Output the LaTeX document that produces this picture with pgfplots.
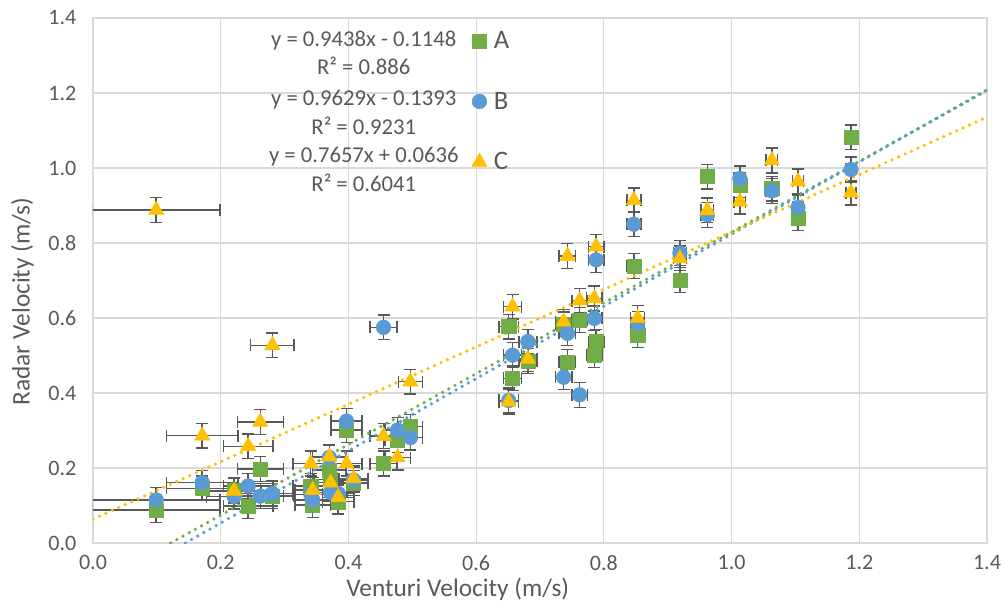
\documentclass[border=0pt]{standalone}
\usepackage{fontspec}
\setmainfont{Carlito}
\usepackage{pgfplots}
\usepackage{pgfplotstable}
\pgfplotsset{compat=1.18}

\definecolor{cA}{HTML}{70AD47}
\definecolor{cB}{HTML}{5B9BD5}
\definecolor{cC}{HTML}{FFC000}
\definecolor{txt}{HTML}{595959}
\definecolor{grd}{HTML}{D9D9D9}

% venturi velocity, radar velocity for A, B, C, and x error
\pgfplotstableread{
x      A      B      C      ex
0.099  0.088  0.115  0.888  0.100
0.171  0.146  0.161  0.286  0.056
0.221  0.140  0.124  0.139  0.043
0.243  0.099  0.152  0.258  0.039
0.262  0.197  0.125  0.323  0.036
0.281  0.125  0.132  0.527  0.034
0.341  0.152  0.130  0.212  0.028
0.344  0.101  0.115  0.141  0.028
0.370  0.195  0.228  0.230  0.026
0.372  0.170  0.135  0.161  0.026
0.384  0.110  0.132  0.122  0.025
0.397  0.301  0.325  0.212  0.024
0.408  0.160  0.168  0.172  0.023
0.455  0.212  0.575  0.285  0.021
0.477  0.275  0.301  0.228  0.020
0.497  0.310  0.281  0.430  0.019
0.651  0.577  0.380  0.377  0.015
0.657  0.439  0.501  0.630  0.014
0.681  0.485  0.537  0.491  0.014
0.737  0.583  0.442  0.590  0.013
0.743  0.483  0.559  0.765  0.013
0.762  0.595  0.395  0.646  0.012
0.785  0.501  0.599  0.652  0.012
0.788  0.537  0.755  0.790  0.012
0.847  0.739  0.850  0.914  0.011
0.853  0.555  0.585  0.600  0.011
0.919  0.701  0.773  0.759  0.010
0.962  0.977  0.875  0.887  0.010
1.013  0.955  0.972  0.910  0.009
1.063  0.945  0.939  1.020  0.009
1.104  0.866  0.895  0.964  0.009
1.187  1.082  0.996  0.934  0.008
}\data

\pgfplotsset{
  errs/.style={
    error bars/.cd,
      x dir=both, x explicit,
      y dir=both, y fixed=0.033,
      error bar style={txt, line width=1.1pt},
      error mark options={txt, line width=1.1pt, mark size=4.5pt, rotate=90},
  },
  trend/.style={line width=2.7pt, dash pattern=on 0pt off 5.3pt, line cap=round, forget plot},
}

\begin{document}
\begin{tikzpicture}
\begin{axis}[
  at={(0,0)}, anchor=south west,
  scale only axis, width=670.5pt, height=393.75pt,
  xmin=0, xmax=1.4, ymin=0, ymax=1.4,
  xtick={0,0.2,0.4,0.6,0.8,1.0,1.2,1.4},
  ytick={0,0.2,0.4,0.6,0.8,1.0,1.2,1.4},
  /pgf/number format/.cd, fixed, fixed zerofill, precision=1, assume math mode=true,
  /pgfplots/.cd,
  major tick length=0pt,
  grid=major,
  grid style={grd, line width=0.9pt},
  axis line style={grd, line width=0.9pt},
  tick label style={font=\fontsize{16.5}{18}\selectfont, text=txt},
  yticklabel style={xshift=-9pt},
  xticklabel style={yshift=-6pt},
  xlabel={Venturi Velocity (m/s)},
  ylabel={Radar Velocity (m/s)},
  label style={font=\fontsize{19}{22}\selectfont, text=txt},
  xlabel style={at={([yshift=-35pt]axis description cs:0.408,0)}, anchor=center},
  ylabel style={at={([xshift=-53pt]axis description cs:0,0.46)}, anchor=center},
  legend style={at={(axis description cs:0.419,0.985)}, anchor=north west,
    draw=none, fill=none, font=\fontsize{20}{22}\selectfont, text=txt,
    row sep=27pt, legend cell align=left,
    /tikz/every odd column/.append style={column sep=3pt}},
]
\addplot[only marks, mark=square*, mark size=5.3pt, mark options={fill=cA, draw=cA}, errs]
  table[x=x, y=A, x error=ex]{\data};
\addlegendentry{A}
\addplot[only marks, mark=*, mark size=5.5pt, mark options={fill=cB, draw=cB}, errs]
  table[x=x, y=B, x error=ex]{\data};
\addlegendentry{B}
\addplot[only marks, mark=triangle*, mark size=6.6pt, mark options={fill=cC, draw=cC}, errs]
  table[x=x, y=C, x error=ex]{\data};
\addlegendentry{C}

% trendlines from the fitted equations, end points only
\addplot[cA, trend] coordinates {(0.1216,0) (1.4,1.2065)};
\addplot[cB, trend] coordinates {(0.1447,0) (1.4,1.2088)};
\addplot[cC, trend] coordinates {(0,0.0636) (1.4,1.1356)};

\begin{scope}[every node/.style={font=\fontsize{17}{19}\selectfont, text=txt}]
\node at (axis cs:0.424,1.339) {y = 0.9438x - 0.1148};
\node at (axis cs:0.424,1.272) {R² = 0.886};
\node at (axis cs:0.424,1.181) {y = 0.9629x - 0.1393};
\node at (axis cs:0.424,1.112) {R² = 0.9231};
\node at (axis cs:0.424,1.029) {y = 0.7657x + 0.0636};
\node at (axis cs:0.424,0.960) {R² = 0.6041};
\end{scope}
\end{axis}
\pgfresetboundingbox
\path[use as bounding box] (-69.75pt,-45pt) rectangle (684.75pt,407.25pt);
\end{tikzpicture}
\end{document}
